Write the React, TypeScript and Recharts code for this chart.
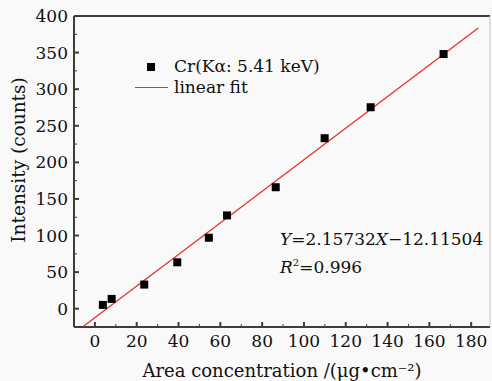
import React from "react";
import {
  ScatterChart,
  Scatter,
  XAxis,
  YAxis,
  ReferenceLine,
} from "recharts";

// measured points (area concentration, intensity)
const concentration = [3.8, 8.0, 23.6, 39.4, 54.5, 63.2, 86.5, 109.9, 131.9, 166.8];
const intensity = [5.2, 13.4, 33, 63.4, 97, 127.5, 166, 233, 275.3, 348];

// ends of the drawn fit line
const fitX = [-5.6, 183.4];
const fitY = [-24.2, 383.5];

const xTicks = [0, 20, 40, 60, 80, 100, 120, 140, 160, 180];
const xMinor = [10, 30, 50, 70, 90, 110, 130, 150, 170];
const yTicks = [0, 50, 100, 150, 200, 250, 300, 350, 400];
const yMinor = [25, 75, 125, 175, 225, 275, 325, 375];

const points = concentration.map((x, i) => ({ x, y: intensity[i] }));
const fit = fitX.map((x, i) => ({ x, y: fitY[i] }));

const FONT = "'DejaVu Serif', 'Liberation Serif', serif";
const AXIS = "#3c3c3c";
const INK = "#111";
const tickStyle = { fontSize: 17, fill: INK, fontFamily: FONT };

const Square = (p: any) => (
  <rect x={p.cx - 4} y={p.cy - 4} width={8} height={8} fill="#000" />
);

export default function App() {
  return (
    <div
      style={{
        position: "absolute",
        left: 0,
        top: 0,
        width: 492,
        height: 381,
        background: "#f9f9f9",
        fontFamily: FONT,
        color: INK,
      }}
    >
      <ScatterChart width={492} height={381} margin={{ top: 16, right: 2, left: 0, bottom: 0 }}>
        <XAxis
          type="number"
          dataKey="x"
          xAxisId="main"
          domain={[-10, 189]}
          ticks={xTicks}
          allowDataOverflow
          height={54}
          tickSize={-5}
          tickMargin={13}
          tick={tickStyle}
          stroke={AXIS}
          strokeWidth={2}
          label={{
            value: "Area concentration /(μg•cm⁻²)",
            position: "insideBottom",
            offset: 4,
            style: { fontSize: 18, fill: INK, fontFamily: FONT },
          }}
        />
        <XAxis
          type="number"
          dataKey="x"
          xAxisId="minor"
          domain={[-10, 189]}
          ticks={xMinor}
          allowDataOverflow
          mirror
          height={1}
          tickSize={3}
          tickFormatter={() => ""}
          axisLine={false}
          stroke={AXIS}
        />
        <YAxis
          type="number"
          dataKey="y"
          yAxisId="main"
          domain={[-25, 400]}
          ticks={yTicks}
          allowDataOverflow
          width={74}
          tickSize={-5}
          tickMargin={11}
          tick={tickStyle}
          stroke={AXIS}
          strokeWidth={2}
          label={{
            content: () => (
              <text
                x={18}
                y={160}
                transform="rotate(-90 18 160)"
                textAnchor="middle"
                dominantBaseline="central"
                style={{ fontSize: 18.5, fill: INK, fontFamily: FONT }}
              >
                Intensity (counts)
              </text>
            ),
          }}
        />
        <YAxis
          type="number"
          dataKey="y"
          yAxisId="minor"
          domain={[-25, 400]}
          ticks={yMinor}
          allowDataOverflow
          mirror
          width={1}
          tickSize={3}
          tickFormatter={() => ""}
          axisLine={false}
          stroke={AXIS}
        />
        <ReferenceLine xAxisId="main" yAxisId="main" y={400} stroke={AXIS} strokeWidth={2} />
        <ReferenceLine xAxisId="main" yAxisId="main" x={189} stroke="#c8c8c8" strokeWidth={1} />
        <Scatter
          xAxisId="main"
          yAxisId="main"
          data={fit}
          line={{ stroke: "#e8302a", strokeWidth: 1.3 }}
          shape={() => <g />}
          isAnimationActive={false}
        />
        <Scatter
          xAxisId="main"
          yAxisId="main"
          data={points}
          shape={Square}
          isAnimationActive={false}
        />
      </ScatterChart>

      {/* legend */}
      <div style={{ position: "absolute", left: 133, top: 56, fontSize: 17, lineHeight: "21px" }}>
        <div style={{ display: "flex", alignItems: "center", height: 21 }}>
          <span style={{ width: 36, display: "flex", justifyContent: "center" }}>
            <span style={{ width: 8, height: 8, background: "#000", display: "block" }} />
          </span>
          <span style={{ marginLeft: 5 }}>Cr(Kα: 5.41 keV)</span>
        </div>
        <div style={{ display: "flex", alignItems: "center", height: 21 }}>
          <span style={{ width: 33, marginLeft: 2, height: 1.3, background: "#e8302a", display: "block" }} />
          <span style={{ marginLeft: 6 }}>linear fit</span>
        </div>
      </div>

      {/* fit equation */}
      <div style={{ position: "absolute", left: 280, top: 228, fontSize: 17, lineHeight: "23px" }}>
        <div>
          <i>Y</i>=2.15732<i>X</i>−12.11504
        </div>
        <div>
          <i>R</i>
          <sup style={{ fontSize: 10 }}>2</sup>=0.996
        </div>
      </div>
    </div>
  );
}
